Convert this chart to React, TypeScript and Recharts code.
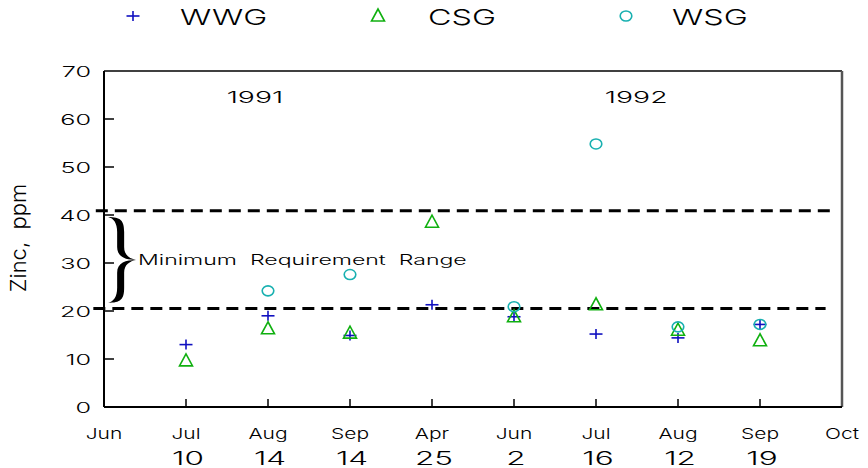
import React from 'react';
import { ScatterChart, Scatter, XAxis, YAxis, ReferenceLine, ReferenceArea, ReferenceDot } from 'recharts';

// sampling dates: axis runs Jun 1991 .. Oct 1992, one slot per sample
const MONTHS = ['Jun', 'Jul', 'Aug', 'Sep', 'Apr', 'Jun', 'Jul', 'Aug', 'Sep', 'Oct'];
const DAYS = ['', '10', '14', '14', '25', '2', '16', '12', '19', ''];
const SAMPLE_IDX = [1, 2, 3, 4, 5, 6, 7, 8];

const WWG = [13.0, 19.0, 14.9, 21.3, 18.8, 15.2, 14.4, 17.2];
const CSG = [9.6, 16.3, 15.4, 38.5, 18.8, 21.3, 16.0, 13.8];
const WSG = [null, 24.2, 27.6, null, 20.9, 54.8, 16.7, 17.2];

const Y_TICKS = [0, 10, 20, 30, 40, 50, 60, 70];
const X_TICKS = [0, 1, 2, 3, 4, 5, 6, 7, 8, 9];

// minimum requirement band
const REQ_LOW = 20.5;
const REQ_HIGH = 40.9;

const YEARS = [
  { x: 1.84, y: 64.6, label: '1991' },
  { x: 6.49, y: 64.6, label: '1992' },
];

const FONT = 'Inter, "DejaVu Sans", sans-serif';
const BLUE = '#1010c0';
const GREEN = '#10b010';
const CYAN = '#18b0b0';

const toPoints = (vals: (number | null)[]) =>
  vals
    .map((v, i) => ({ x: SAMPLE_IDX[i], y: v }))
    .filter((p) => p.y !== null);

const Wide = ({ x, y, sx, size, anchor = 'middle', children }: any) => (
  <text
    transform={`translate(${x},${y}) scale(${sx},1)`}
    textAnchor={anchor}
    dominantBaseline="central"
    fontSize={size}
    fontFamily={FONT}
    fontWeight={300}
    fill="#000"
    style={{ whiteSpace: 'pre' }}
  >
    {children}
  </text>
);

const Plus = ({ cx, cy, color = BLUE }: any) => (
  <g stroke={color} strokeWidth={1.6}>
    <line x1={cx - 6.5} x2={cx + 6.5} y1={cy} y2={cy} />
    <line x1={cx} x2={cx} y1={cy - 5} y2={cy + 5} />
  </g>
);

const Tri = ({ cx, cy, color = GREEN }: any) => (
  <polygon
    points={`${cx},${cy - 7} ${cx - 6.5},${cy + 5} ${cx + 6.5},${cy + 5}`}
    fill="none"
    stroke={color}
    strokeWidth={1.6}
  />
);

const Ring = ({ cx, cy, color = CYAN }: any) => (
  <ellipse cx={cx} cy={cy} rx={5.8} ry={5} fill="none" stroke={color} strokeWidth={1.6} />
);

const XTick = ({ x, y, payload }: any) => {
  const i = payload.value;
  return (
    <g>
      {i > 0 && i < 9 && <line x1={x} x2={x} y1={y} y2={y - 8} stroke="#000" strokeWidth={1.5} />}
      <Wide x={x} y={y + 26} sx={1.4} size={15}>{MONTHS[i]}</Wide>
      <Wide x={x + 2} y={y + 51} sx={1.75} size={18}>{DAYS[i]}</Wide>
    </g>
  );
};

const YTick = ({ x, y, payload }: any) => (
  <g>
    {payload.value > 0 && payload.value < 70 && (
      <line x1={x} x2={x + 10} y1={y} y2={y} stroke="#000" strokeWidth={1.5} />
    )}
    <Wide x={x - 13} y={y + 1} sx={1.8} size={14} anchor="end">{payload.value}</Wide>
  </g>
);

const Brace = ({ x, y, width, height }: any) => {
  const x0 = x;
  const x1 = x + width;
  const xm = x0 + width * 0.45;
  const ym = y + height / 2;
  const H = height / 2;
  const t = 7;
  const half = (s: number) => {
    const Y = (d: number) => ym - s * d;
    return `M ${x1} ${ym} C ${x1 - 6} ${Y(0.03 * H)} ${xm + t / 2} ${Y(0.1 * H)} ${xm + t / 2} ${Y(0.3 * H)}
      L ${xm + t / 2} ${Y(0.65 * H)} C ${xm + t / 2} ${Y(0.92 * H)} ${xm} ${Y(H)} ${x0} ${Y(H)}
      C ${xm - t} ${Y(0.97 * H)} ${xm - t / 2} ${Y(0.86 * H)} ${xm - t / 2} ${Y(0.65 * H)}
      L ${xm - t / 2} ${Y(0.3 * H)} C ${xm - t / 2} ${Y(0.06 * H)} ${x1 - 10} ${ym} ${x1} ${ym} Z`;
  };
  return (
    <g>
      <path d={half(1)} fill="#000" />
      <path d={half(-1)} fill="#000" />
      <Wide x={x1 + 2} y={ym} sx={1.65} size={14} anchor="start">
        {'Minimum  Requirement  Range'}
      </Wide>
    </g>
  );
};

const SERIES = [
  { name: 'WWG', data: toPoints(WWG), shape: Plus, color: BLUE },
  { name: 'CSG', data: toPoints(CSG), shape: Tri, color: GREEN },
  { name: 'WSG', data: toPoints(WSG), shape: Ring, color: CYAN },
];
const LEGEND_MARK_X = [133, 378, 626];
const LEGEND_TEXT_X = [180, 428, 672];

const App: React.FC = () => (
  <div style={{ position: 'absolute', left: 0, top: 0, width: 868, height: 468, background: '#fff' }}>
    <ScatterChart width={868} height={468} margin={{ top: 71, right: 26, left: 0, bottom: 0 }}>
      <XAxis
        type="number"
        dataKey="x"
        domain={[0, 9]}
        ticks={X_TICKS}
        interval={0}
        height={61}
        tickSize={0}
        tickMargin={0}
        tick={<XTick />}
        axisLine={{ stroke: '#000', strokeWidth: 2 }}
        allowDataOverflow
      />
      <YAxis
        type="number"
        dataKey="y"
        domain={[0, 70]}
        ticks={Y_TICKS}
        interval={0}
        width={104}
        tickSize={0}
        tickMargin={0}
        tick={<YTick />}
        axisLine={{ stroke: '#000', strokeWidth: 2 }}
      />
      <ReferenceLine y={70} stroke="#000" strokeWidth={1.5} />
      <ReferenceLine x={9} stroke="#555" strokeWidth={2.5} />
      <ReferenceLine
        segment={[{ x: -0.1, y: REQ_HIGH }, { x: 8.93, y: REQ_HIGH }]}
        stroke="#000"
        strokeWidth={3}
        strokeDasharray="12 7"
        ifOverflow="visible"
      />
      <ReferenceLine
        segment={[{ x: -0.13, y: REQ_LOW }, { x: 8.8, y: REQ_LOW }]}
        stroke="#000"
        strokeWidth={3}
        strokeDasharray="12 7"
        ifOverflow="visible"
      />
      <ReferenceArea x1={0.05} x2={0.39} y1={21.7} y2={39.6} ifOverflow="visible" shape={(p: any) => <Brace {...p} />} />
      {YEARS.map((yr) => (
        <ReferenceDot
          key={yr.label}
          x={yr.x}
          y={yr.y}
          r={0}
          shape={(p: any) => (
            <Wide x={p.cx} y={p.cy} sx={1.72} size={16.5}>{yr.label}</Wide>
          )}
        />
      ))}
      {SERIES.map((s) => (
        <Scatter
          key={s.name}
          name={s.name}
          data={s.data}
          isAnimationActive={false}
          shape={(p: any) => <s.shape cx={p.cx} cy={p.cy} />}
        />
      ))}
    </ScatterChart>
    <svg width={868} height={468} style={{ position: 'absolute', left: 0, top: 0, pointerEvents: 'none' }}>
      {SERIES.map((s, i) => (
        <g key={s.name}>
          <s.shape cx={LEGEND_MARK_X[i]} cy={16} />
          <Wide x={LEGEND_TEXT_X[i]} y={17} sx={1.47} size={22} anchor="start">{s.name}</Wide>
        </g>
      ))}
      <text
        transform="translate(18,238) rotate(-90)"
        textAnchor="middle"
        dominantBaseline="central"
        fontSize={22}
        fontFamily={FONT}
        fontWeight={300}
        fill="#000"
        style={{ whiteSpace: 'pre' }}
      >
        {'Zinc,  ppm'}
      </text>
    </svg>
  </div>
);

export default App;
